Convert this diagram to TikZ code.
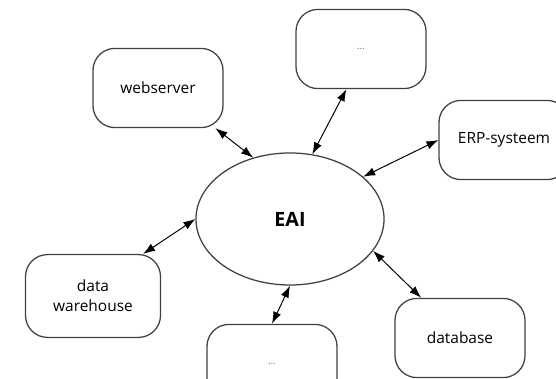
\documentclass[tikz,border=0pt]{standalone}
\usepackage{fontspec}
\setmainfont{Open Sans}
\usetikzlibrary{arrows.meta,shapes.geometric}
\begin{document}
\begin{tikzpicture}[x=0.025cm,y=-0.025cm,
	sys/.style={draw=black!75, line width=0.9pt, rounded corners=0.55cm, minimum width=3.25cm, minimum height=1.98cm, align=center, font=\fontsize{11}{14}\selectfont},
	hub/.style={draw=black!75, line width=0.9pt, ellipse, inner sep=0pt, minimum width=4.7cm, minimum height=3.3cm, font=\fontsize{14}{16}\selectfont\bfseries},
	link/.style={{Latex[length=8.5pt,width=6pt]}-{Latex[length=8.5pt,width=6pt]}, line width=0.7pt}]
	\useasboundingbox (0,0) rectangle (556,379);
	\node[hub] (eai) at (290,219) {EAI};
	\node[sys] (web) at (158,88) {webserver};
	\node[sys] (top) at (361,49) {\color{black!55}\scriptsize\ldots};
	\node[sys] (erp) at (504,140) {ERP-systeem};
	\node[sys, minimum width=3.375cm, minimum height=2.07cm] (dwh) at (93,296) {data\\warehouse};
	\node[sys] (bot) at (272,364) {\color{black!55}\scriptsize\ldots};
	\node[sys] (db) at (460,338) {database};
	\draw[link] (web.-35) -- (eai.121);
	\draw[link] (top.-110) -- (eai.71);
	\draw[link] (erp.west) -- (eai.30);
	\draw[link] (dwh.40) -- (eai.west);
	\draw[link] (bot.north) -- (eai.south);
	\draw[link] (db.134) -- (eai.-21);
\end{tikzpicture}
\end{document}
